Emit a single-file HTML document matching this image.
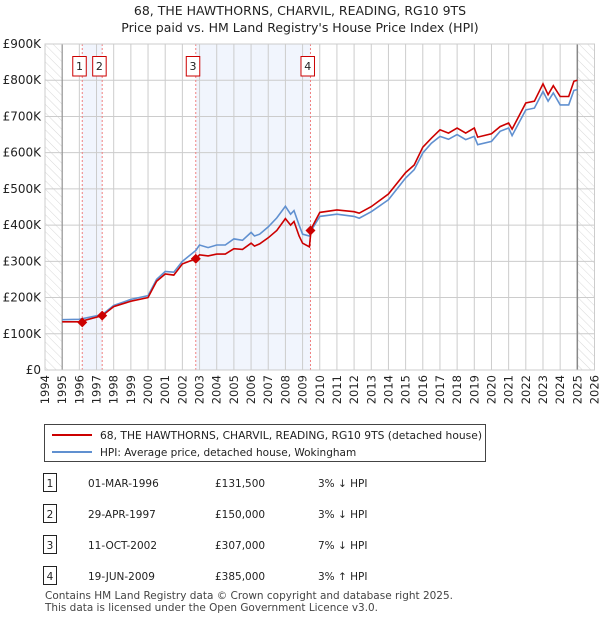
<!DOCTYPE html>
<html><head><meta charset="utf-8"><style>
body{margin:0;background:#fff;font-family:"Liberation Sans","DejaVu Sans",sans-serif;}
#wrap{position:relative;width:600px;height:620px;overflow:hidden}
svg text{font-family:"DejaVu Sans","Liberation Sans",sans-serif}
</style></head><body><div id="wrap">
<svg id="chart" width="600" height="620"></svg>
</div>
<script>
const years=[1995,1996,1997.33,1998,1999,2000,2000.5,2001,2001.5,2002,2002.78,2003,2003.5,2004,2004.5,2005,2005.5,2006,2006.2,2006.5,2007,2007.5,2008,2008.3,2008.5,2008.8,2009,2009.4,2009.5,2010,2011,2012,2012.3,2013,2014,2015,2015.5,2016,2016.5,2017,2017.5,2018,2018.5,2019,2019.2,2020,2020.5,2021,2021.2,2022,2022.5,2023,2023.3,2023.6,2024,2024.5,2024.8,2025];
const hpiValues=[139,140,153,178,195,205,250,272,270,300,330,345,338,345,345,362,358,380,370,375,395,420,452,430,440,400,375,370,385,424,430,424,419,437,470,530,553,599,626,645,637,650,636,645,622,631,659,668,647,718,723,769,742,765,732,732,772,774];
const priceValues=[133,133,150,175,190,200,245,265,262,293,307,318,315,320,320,335,333,350,342,348,365,385,418,400,410,370,350,340,390,435,442,437,433,451,486,545,566,615,640,663,654,668,654,668,643,652,672,682,665,737,742,790,760,785,755,755,797,800];
const saleDates=[1996.17,1997.33,2002.78,2009.46];
const salePrices=[131.5,150,307,385];
const yTicks=[0,100,200,300,400,500,600,700,800,900];
const yTickLabels=["£0","£100K","£200K","£300K","£400K","£500K","£600K","£700K","£800K","£900K"];
const saleRows=[["1","01-MAR-1996","£131,500","3% ↓ HPI"],["2","29-APR-1997","£150,000","3% ↓ HPI"],["3","11-OCT-2002","£307,000","7% ↓ HPI"],["4","19-JUN-2009","£385,000","3% ↑ HPI"]];

const L=45,R=594.5,T=44,B=370,x0=1994,x1=2026,yMax=900;
const X=v=>L+(v-x0)/(x1-x0)*(R-L);
const Y=v=>B-v/yMax*(B-T);
const svg=document.getElementById('chart');
const NS='http://www.w3.org/2000/svg';
function mk(tag,attrs,parent){const e=document.createElementNS(NS,tag);for(const k in attrs)e.setAttribute(k,attrs[k]);(parent||svg).appendChild(e);return e;}
function txt(s,attrs,parent){const e=mk('text',attrs,parent);e.textContent=s;return e;}

const defs=mk('defs',{});
const pat=mk('pattern',{id:'hatch',width:6,height:6,patternUnits:'userSpaceOnUse',patternTransform:'rotate(-45)'},defs);
mk('line',{x1:0,y1:0,x2:0,y2:6,stroke:'#d8d8d8','stroke-width':1},pat);

let t=txt('68, THE HAWTHORNS, CHARVIL, READING, RG10 9TS',{x:300,y:15,'text-anchor':'middle','font-size':12.5,fill:'#222'});

t=txt("Price paid vs. HM Land Registry's House Price Index (HPI)",{x:300,y:32,'text-anchor':'middle','font-size':12.5,fill:'#222'});


let r=mk('rect',{x:X(saleDates[0]),y:T,width:X(saleDates[1])-X(saleDates[0]),height:B-T,fill:'#f1f5fd'});

r=mk('rect',{x:X(saleDates[2]),y:T,width:X(saleDates[3])-X(saleDates[2]),height:B-T,fill:'#f1f5fd'});

r=mk('rect',{x:L,y:T,width:X(1995)-L,height:B-T,fill:'url(#hatch)'});

r=mk('rect',{x:X(2025),y:T,width:R-X(2025),height:B-T,fill:'url(#hatch)'});


for(let yr=x0;yr<=x1;yr++){
  const g=mk('line',{x1:X(yr),x2:X(yr),y1:T,y2:B,stroke:'#ccc','stroke-width':1});
  
  const lt=txt(String(yr),{transform:`translate(${X(yr)+4},${B+5}) rotate(-90)`,'text-anchor':'end','font-size':11.5,fill:'#222'});
  
}
yTicks.forEach((v,i)=>{
  const g=mk('line',{x1:L,x2:R,y1:Y(v),y2:Y(v),stroke:'#ccc','stroke-width':1});
  
  const lt=txt(yTickLabels[i],{x:41,y:Y(v)+4,'text-anchor':'end','font-size':12,fill:'#222'});
  
});
let ln=mk('line',{x1:X(1995),x2:X(1995),y1:T,y2:B,stroke:'#888','stroke-width':1});

ln=mk('line',{x1:X(2025),x2:X(2025),y1:T,y2:B,stroke:'#888','stroke-width':1.5});


saleDates.forEach((d,i)=>{
  const l=mk('line',{x1:X(d),x2:X(d),y1:T,y2:B,stroke:'#f08080','stroke-width':1,'stroke-dasharray':'2,2'});
  
  const bx=mk('rect',{x:X(d)-9.5,y:56.5,width:13.5,height:19.5,fill:'#fff',stroke:'#c00','stroke-width':1});
  
  const bt=txt(String(i+1),{x:X(d)-2.75,y:70,'text-anchor':'middle','font-size':11,fill:'#222'});
  
});

function path(vals){return years.map((yr,i)=>(i?'L':'M')+X(yr).toFixed(1)+','+Y(vals[i]).toFixed(1)).join('');}
let p=mk('path',{d:path(hpiValues),fill:'none',stroke:'#6090d0','stroke-width':1.6});

p=mk('path',{d:path(priceValues),fill:'none',stroke:'#cc0000','stroke-width':1.6});

saleDates.forEach((d,i)=>{
  const cx=X(d),cy=Y(salePrices[i]);
  const m=mk('polygon',{points:`${cx},${cy-5} ${cx+5},${cy} ${cx},${cy+5} ${cx-5},${cy}`,fill:'#cc0000'});
  
});
let fr=mk('rect',{x:L,y:T,width:R-L,height:B-T,fill:'none',stroke:'#ccc'});


const lg=mk('g',{});
mk('rect',{x:44.5,y:424.5,width:441,height:37,fill:'#fff',stroke:'#444'},lg);
mk('line',{x1:52,x2:92,y1:435,y2:435,stroke:'#cc0000','stroke-width':2},lg);
let le=txt('68, THE HAWTHORNS, CHARVIL, READING, RG10 9TS (detached house)',{x:100,y:439,'font-size':10.5,fill:'#222',textLength:382,lengthAdjust:'spacingAndGlyphs'},lg);

mk('line',{x1:52,x2:92,y1:452,y2:452,stroke:'#6090d0','stroke-width':2},lg);
le=txt('HPI: Average price, detached house, Wokingham',{x:100,y:456,'font-size':10.5,fill:'#222'},lg);


saleRows.forEach((row,i)=>{
  const y=483+i*31;
  const g=mk('g',{});
  mk('rect',{x:43.5,y:y-9.5,width:13,height:18,fill:'#fff',stroke:'#222'},g);
  txt(row[0],{x:50,y:y+4,'text-anchor':'middle','font-size':10.5,fill:'#222'},g);
  txt(row[1],{x:88,y:y+4,'font-size':10.5,fill:'#222'},g);
  txt(row[2],{x:215,y:y+4,'font-size':10.5,fill:'#222'},g);
  txt(row[3],{x:318,y:y+4,'font-size':10.5,fill:'#222'},g);
});
let f=txt('Contains HM Land Registry data © Crown copyright and database right 2025.',{x:45,y:599,'font-size':10.5,fill:'#444',textLength:408,lengthAdjust:'spacingAndGlyphs'});

f=txt('This data is licensed under the Open Government Licence v3.0.',{x:45,y:611,'font-size':10.5,fill:'#444',textLength:333,lengthAdjust:'spacingAndGlyphs'});

</script></body></html>
